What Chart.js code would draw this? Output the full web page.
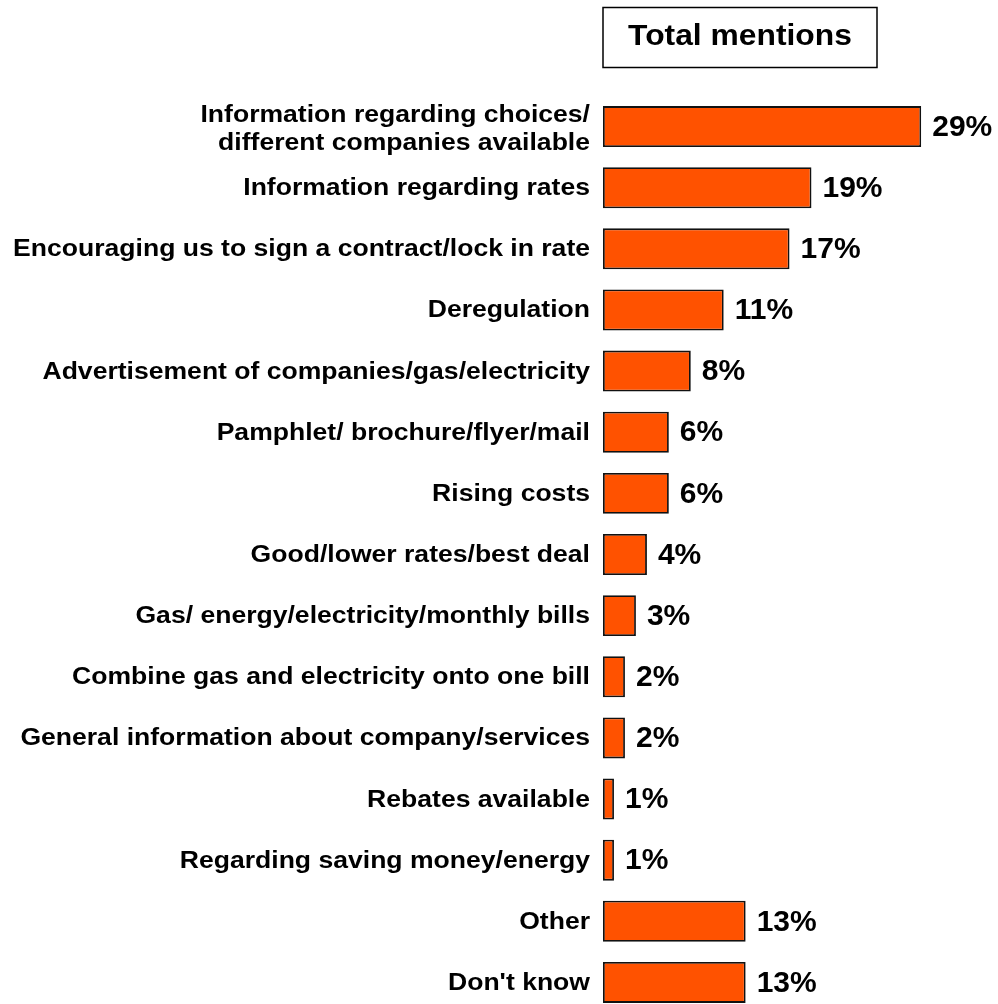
<!DOCTYPE html>
<html>
<head>
<meta charset="utf-8">
<title>Total mentions</title>
<script src="https://cdn.jsdelivr.net/npm/chart.js@4"></script>
<style>
  html, body { margin: 0; padding: 0; background: #fff; overflow: hidden; }
  #wrap { position: absolute; left: 0; top: 0; width: 998px; height: 1013px; }
</style>
</head>
<body>
<div id="wrap"><canvas id="mentionsChart"></canvas></div>
<script>
// categories and values
const categories = [
    ['Information regarding choices/', 'different companies available'],
    'Information regarding rates',
    'Encouraging us to sign a contract/lock in rate',
    'Deregulation',
    'Advertisement of companies/gas/electricity',
    'Pamphlet/ brochure/flyer/mail',
    'Rising costs',
    'Good/lower rates/best deal',
    'Gas/ energy/electricity/monthly bills',
    'Combine gas and electricity onto one bill',
    'General information about company/services',
    'Rebates available',
    'Regarding saving money/energy',
    'Other',
    "Don't know"
];
const mentions = [29, 19, 17, 11, 8, 6, 6, 4, 3, 2, 2, 1, 1, 13, 13];
const chartTitle = 'Total mentions';

const FONT = '"Liberation Sans", Arial, sans-serif';

// category names, right aligned next to the bars and drawn a little wide
const categoryLabels = {
    id: 'categoryLabels',
    afterDraw(chart) {
        const ctx = chart.ctx;
        const yScale = chart.scales.y;
        const right = chart.chartArea.left - 13;
        ctx.save();
        ctx.font = 'bold 23.5px ' + FONT;
        ctx.fillStyle = '#000';
        ctx.textAlign = 'right';
        ctx.textBaseline = 'middle';
        categories.forEach((label, i) => {
            const lines = Array.isArray(label) ? label : [label];
            const y = yScale.getPixelForValue(i);
            lines.forEach((line, j) => {
                const dy = (j - (lines.length - 1) / 2) * 28 + (lines.length > 1 ? 3 : 1);
                ctx.save();
                ctx.translate(right, y + dy);
                ctx.scale(1.13, 1);
                ctx.fillText(line, 0, 0);
                ctx.restore();
            });
        });
        ctx.restore();
    }
};

// percent labels to the right of each bar
const valueLabels = {
    id: 'valueLabels',
    afterDatasetsDraw(chart) {
        const ctx = chart.ctx;
        const meta = chart.getDatasetMeta(0);
        ctx.save();
        ctx.font = 'bold 30px ' + FONT;
        ctx.fillStyle = '#000';
        ctx.textAlign = 'left';
        ctx.textBaseline = 'middle';
        meta.data.forEach((bar, i) => {
            ctx.fillText(mentions[i] + '%', bar.x + 11, bar.y + 1);
        });
        ctx.restore();
    }
};

// boxed heading above the bars
const titleBox = {
    id: 'titleBox',
    afterDraw(chart) {
        const ctx = chart.ctx;
        const left = chart.chartArea.left;
        ctx.save();
        ctx.lineWidth = 1.5;
        ctx.strokeStyle = '#000';
        ctx.strokeRect(left, 7.5, 274, 60);
        ctx.font = 'bold 30px ' + FONT;
        ctx.fillStyle = '#000';
        ctx.textAlign = 'center';
        ctx.textBaseline = 'middle';
        ctx.translate(left + 137, 37);
        ctx.scale(1.06, 1);
        ctx.fillText(chartTitle, 0, 0);
        ctx.restore();
    }
};

const ctx = document.getElementById('mentionsChart').getContext('2d');
new Chart(ctx, {
    type: 'bar',
    data: {
        labels: categories,
        datasets: [{
            data: mentions,
            backgroundColor: '#ff5200',
            borderColor: '#111',
            borderWidth: 1.8,
            borderSkipped: false,
            barPercentage: 0.67,
            categoryPercentage: 1
        }]
    },
    options: {
        indexAxis: 'y',
        responsive: true,
        maintainAspectRatio: false,
        animation: false,
        layout: { padding: { top: 96, right: 0, bottom: 0, left: 0 } },
        plugins: {
            legend: { display: false },
            tooltip: { enabled: false }
        },
        scales: {
            x: {
                display: false,
                min: 0,
                max: 36
            },
            y: {
                afterFit(scale) {
                    scale.width = 603;
                    scale.paddingTop = 0;
                    scale.paddingBottom = 0;
                },
                grid: { display: false, drawTicks: false },
                border: { display: false },
                ticks: { display: false }
            }
        }
    },
    plugins: [valueLabels, categoryLabels, titleBox]
});
</script>
</body>
</html>
